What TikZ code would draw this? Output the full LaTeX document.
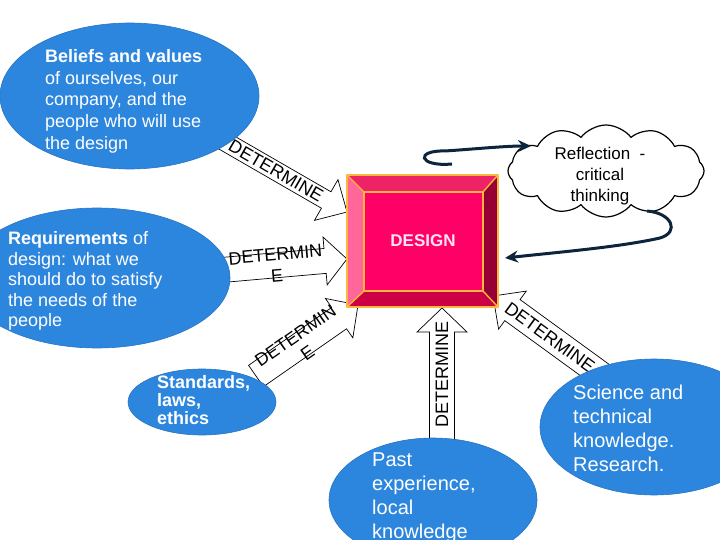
\documentclass[tikz,border=0pt]{standalone}
\usepackage{fontspec}
\setmainfont{Liberation Sans}
\usetikzlibrary{calc,shapes.symbols,shapes.geometric,arrows.meta}
\definecolor{ellblue}{RGB}{45,134,222}
\definecolor{ellline}{RGB}{38,116,196}
\definecolor{navy}{RGB}{12,36,60}
\definecolor{dfront}{RGB}{255,0,102}
\definecolor{dtop}{RGB}{238,34,102}
\definecolor{dleft}{RGB}{255,102,153}
\definecolor{dright}{RGB}{150,0,52}
\definecolor{dbottom}{RGB}{204,0,68}
\definecolor{dedge}{RGB}{255,182,60}
\definecolor{dtext}{RGB}{255,228,240}
\newcommand\detarrow[5]{%
  \coordinate (#1-#2-h) at ($(#2)!#5!(#1)$);
  \draw[blockarrow] ($(#1)!#3!90:(#2)$) -- ($(#1-#2-h)!#3!-90:(#1)$) -- ($(#1-#2-h)!#4!-90:(#1)$) -- (#2) -- ($(#1-#2-h)!#4!90:(#1)$) -- ($(#1-#2-h)!#3!90:(#1)$) -- ($(#1)!#3!-90:(#2)$) -- cycle;}
\tikzset{
  blockarrow/.style={draw=black, fill=white, line width=0.7pt, line join=miter},
  dettext/.style={inner sep=0, font=\fontsize{18}{21}\selectfont, align=center, text=black},
  blueell/.style={ellipse, fill=ellblue, draw=ellline, line width=0.6pt, inner sep=0},
  wtext/.style={text=white, align=left, inner sep=0, anchor=north west},
  curvearrow/.style={draw=navy, line width=3pt, -{Stealth[length=13pt,width=12pt]}},
  faceedge/.style={draw=dedge, line width=1.4pt, line join=round}
}
\begin{document}
\begin{tikzpicture}[x=1pt,y=-1pt]
\useasboundingbox (0,0) rectangle (720,540);
\clip (0,0) rectangle (720,540);
% block arrows
\coordinate (a1t) at (217,137); \coordinate (a1h) at (347,212);
\coordinate (a2t) at (222,270); \coordinate (a2h) at (347,259);
\coordinate (a3t) at (256,376); \coordinate (a3h) at (358,305);
\coordinate (a4t) at (442,455); \coordinate (a4h) at (442,308);
\coordinate (a5t) at (614,384); \coordinate (a5h) at (493,296);
\detarrow{a1t}{a1h}{9.5pt}{23.5pt}{24pt}
\detarrow{a2t}{a2h}{12.5pt}{24pt}{22pt}
\detarrow{a3t}{a3h}{13pt}{24pt}{23pt}
\detarrow{a4t}{a4h}{12.5pt}{25pt}{24pt}
\detarrow{a5t}{a5h}{13pt}{23.5pt}{24pt}
\path (a1t) -- (a1h) node[pos=0.454, sloped, dettext] (d1) {DETERMINE};
\path (a2t) -- (a2h) node[pos=0.434, sloped, dettext] (d2) {DETERMIN\\E};
\path (a3t) -- (a3h) node[pos=0.446, sloped, dettext] (d3) {DETERMIN\\E};
\path (a4t) -- (a4h) node[pos=0.55, sloped, allow upside down, dettext] (d4) {DETERMINE};
\path (a5h) -- (a5t) node[pos=0.47, sloped, dettext] (d5) {DETERMINE};
% ellipses
\node[blueell, minimum width=259pt, minimum height=146pt] (bel) at (129.5,96) {};
\node[blueell, minimum width=266pt, minimum height=140pt] (req) at (97,278) {};
\node[blueell, minimum width=148pt, minimum height=66pt] (std) at (202,402) {};
\node[blueell, minimum width=208pt, minimum height=124pt] (past) at (433,500) {};
\node[blueell, minimum width=228pt, minimum height=136pt] (sci) at (654,427) {};
\node[wtext, font=\fontsize{18}{21.6}\selectfont] (beltxt) at (45,49.5)
  {\textbf{Beliefs and values}\\of ourselves, our\\company, and the\\people who will use\\the design};
\node[wtext, font=\fontsize{18}{20.5}\selectfont] (reqtxt) at (8,231.5)
  {\textbf{Requirements} of\\design: what we\\should do to satisfy\\the needs of the\\people};
\node[wtext, font=\bfseries\fontsize{18}{18}\selectfont] (stdtxt) at (157,375.5)
  {Standards,\\laws,\\ethics};
\node[wtext, font=\fontsize{20}{24}\selectfont] (pasttxt) at (372,453)
  {Past\\experience,\\local\\knowledge};
\node[wtext, font=\fontsize{20}{24}\selectfont] (scitxt) at (573,385)
  {Science and\\technical\\knowledge.\\Research.};
% design box
\coordinate (o1) at (347,175); \coordinate (o2) at (498,175);
\coordinate (o3) at (498,307); \coordinate (o4) at (347,307);
\coordinate (i1) at (364,192); \coordinate (i2) at (483,192);
\coordinate (i3) at (483,291); \coordinate (i4) at (364,291);
\fill[dtop] (o1) -- (o2) -- (i2) -- (i1) -- cycle;
\fill[dleft] (o1) -- (i1) -- (i4) -- (o4) -- cycle;
\fill[dright] (o2) -- (o3) -- (i3) -- (i2) -- cycle;
\fill[dbottom] (o4) -- (i4) -- (i3) -- (o3) -- cycle;
\fill[dfront] (i1) rectangle (i3);
\draw[faceedge] (o1) rectangle (o3);
\draw[faceedge] (i1) rectangle (i3);
\draw[faceedge] (o1) -- (i1) (o2) -- (i2) (o3) -- (i3) (o4) -- (i4);
\node[text=dtext, font=\bfseries\fontsize{17}{20}\selectfont, inner sep=0] (design) at (423,241) {DESIGN};
% cloud
\node[cloud, cloud puffs=12, cloud puff arc=105, aspect=2.3, draw=black, fill=white, line width=1.2pt,
  minimum width=196pt, minimum height=92pt, inner sep=0] (refl) at (606,171) {};
\node[inner sep=0, align=center, anchor=north, font=\fontsize{17}{21}\selectfont] (refltxt) at (600,146.5)
  {Reflection~~-\\critical\\thinking};
% curved arrows
\coordinate (ca0) at (452,164); \coordinate (ca1) at (531,146);
\draw[curvearrow] (ca0) .. controls (418,167) and (415,150) .. (445,151) .. controls (475,149) and (505,146) .. (ca1);
\coordinate (cb0) at (647,211); \coordinate (cb1) at (505,258);
\draw[curvearrow] (cb0) .. controls (672,213) and (680,232) .. (660,238) .. controls (620,247) and (560,252) .. (cb1);
\end{tikzpicture}
\end{document}
